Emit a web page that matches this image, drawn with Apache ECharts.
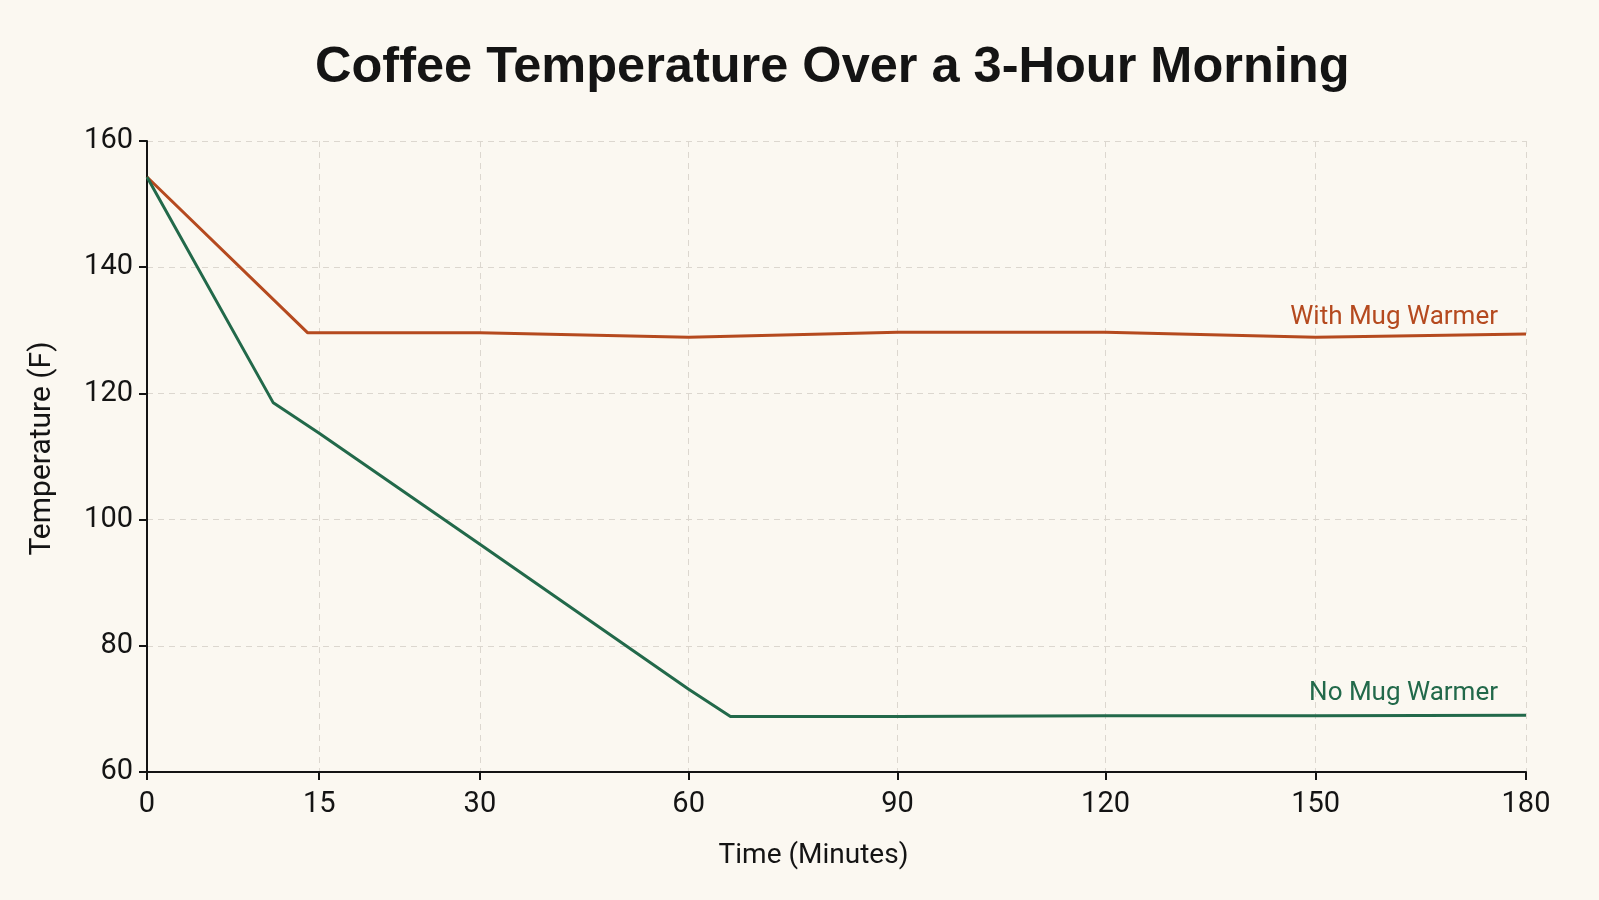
<!DOCTYPE html>
<html>
<head>
<meta charset="utf-8">
<title>Coffee Temperature Over a 3-Hour Morning</title>
<script src="https://cdn.jsdelivr.net/npm/echarts@6/dist/echarts.min.js"></script>
<style>
  html, body { margin: 0; padding: 0; background: #fbf8f1; }
  #chart { width: 1599px; height: 900px; }
</style>
</head>
<body>
<div id="chart"></div>
<script>
// tick labels of the time axis (minutes)
var timeTicks = [0, 15, 30, 60, 90, 120, 150, 180];
// temperature readings (F)
var noWarmerTime = [0, 11, 15, 30, 60, 66, 90, 120, 150, 180];
var noWarmerTemp = [154.3, 118.5, 113.7, 96.1, 73.1, 68.8, 68.8, 68.9, 68.9, 69.0];
var withWarmerTime = [0, 14, 30, 60, 90, 120, 150, 180];
var withWarmerTemp = [154.3, 129.6, 129.6, 128.9, 129.7, 129.7, 128.9, 129.4];

// the time axis is not evenly spaced: where each tick sits along the axis (0..1)
var tickSpot = [0, 0.1249, 0.2414, 0.3928, 0.5443, 0.6951, 0.8475, 1];

function timeToAxis(t) {
  for (var i = 0; i < timeTicks.length - 1; i++) {
    if (t <= timeTicks[i + 1]) {
      var f = (t - timeTicks[i]) / (timeTicks[i + 1] - timeTicks[i]);
      return tickSpot[i] + f * (tickSpot[i + 1] - tickSpot[i]);
    }
  }
  return 1;
}
function axisToLabel(v) {
  var best = 0;
  tickSpot.forEach(function(s, i) { if (Math.abs(s - v) < Math.abs(tickSpot[best] - v)) best = i; });
  return String(timeTicks[best]);
}
function pairs(ts, vs, name, color, dy) {
  return ts.map(function(t, i) {
    var item = { value: [timeToAxis(t), vs[i]] };
    if (i === ts.length - 1) {
      item.label = { show: true, formatter: name, position: 'left', distance: 28, offset: [0, dy],
                     color: color, fontSize: 26, fontFamily: 'Roboto' };
    }
    return item;
  });
}

var cText = '#141414', cOrange = '#b54a1f', cGreen = '#22694a';
var chart = echarts.init(document.getElementById('chart'), null, { renderer: 'canvas' });
chart.setOption({
  backgroundColor: '#fbf8f1',
  animation: false,
  title: {
    text: 'Coffee Temperature Over a 3-Hour Morning',
    left: 310, top: 38,
    textStyle: { fontFamily: 'Liberation Sans', fontWeight: 'bold', fontSize: 50.5, color: cText }
  },
  grid: { left: 147, right: 73, top: 141, bottom: 128 },
  xAxis: {
    type: 'value', min: 0, max: 1,
    name: 'Time (Minutes)', nameLocation: 'middle', nameGap: 70,
    nameTextStyle: { fontFamily: 'Roboto', fontSize: 28, color: cText, padding: [0, 46, 0, 0] },
    axisLine: { lineStyle: { color: cText, width: 2 } },
    axisTick: { show: true, length: 8, customValues: tickSpot, lineStyle: { color: cText, width: 2 } },
    axisLabel: { customValues: tickSpot, formatter: axisToLabel, margin: 18,
                 fontFamily: 'Roboto', fontSize: 29, color: cText },
    splitLine: { show: true, lineStyle: { color: '#dcd7cf', type: [6, 5], width: 1 } }
  },
  yAxis: {
    type: 'value', min: 60, max: 160, interval: 20,
    name: 'Temperature (F)', nameLocation: 'middle', nameGap: 90,
    nameTextStyle: { fontFamily: 'Roboto', fontSize: 30, color: cText, padding: [0, 0, 0, 16] },
    axisLine: { show: true, lineStyle: { color: cText, width: 2 } },
    axisTick: { show: true, length: 8, lineStyle: { color: cText, width: 2 } },
    axisLabel: { margin: 14, fontFamily: 'Roboto', fontSize: 29, color: cText },
    splitLine: { show: true, lineStyle: { color: '#dcd7cf', type: [6, 5], width: 1 } }
  },
  series: [
    {
      name: 'With Mug Warmer', type: 'line',
      data: pairs(withWarmerTime, withWarmerTemp, 'With Mug Warmer', cOrange, -17),
      showSymbol: true, symbolSize: 0,
      lineStyle: { color: cOrange, width: 3 }, itemStyle: { color: cOrange }
    },
    {
      name: 'No Mug Warmer', type: 'line',
      data: pairs(noWarmerTime, noWarmerTemp, 'No Mug Warmer', cGreen, -22),
      showSymbol: true, symbolSize: 0,
      lineStyle: { color: cGreen, width: 3 }, itemStyle: { color: cGreen }
    }
  ]
});
</script>
</body>
</html>
